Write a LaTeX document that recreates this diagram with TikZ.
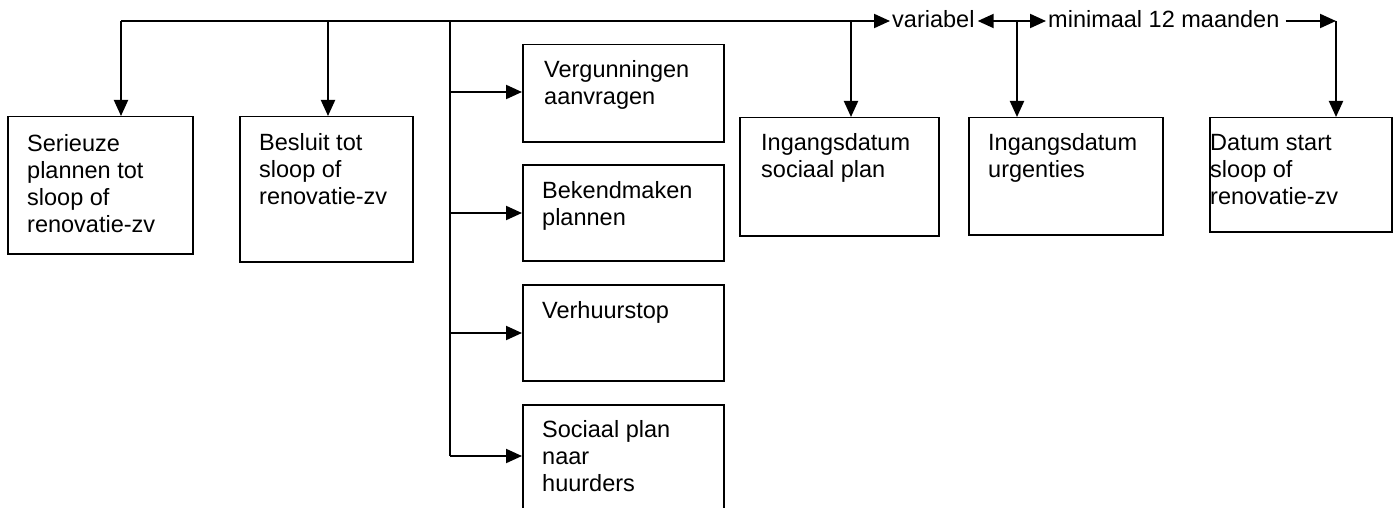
\documentclass[tikz,border=0pt]{standalone}
\usepackage{fontspec}
\setmainfont{Liberation Sans}
\usetikzlibrary{arrows.meta}
\newcommand\boxtext[1]{\begin{tabular}[t]{@{}l@{}}#1\end{tabular}}
\begin{document}
\begin{tikzpicture}[x=1pt,y=-1pt,
  box/.style={draw=black,line width=1.5pt,rectangle,anchor=north west,inner sep=0pt},
  txt/.style={anchor=base west,inner sep=0pt,font=\fontsize{23.5}{27}\selectfont},
  lbl/.style={anchor=base west,inner xsep=2pt,inner ysep=0pt,font=\fontsize{23.5}{27}\selectfont},
  conn/.style={line width=2pt},
  arr/.style={conn,-{Triangle[length=16pt,width=14pt]}}]
\useasboundingbox (0,0) rectangle (1394,508);
\fill[white] (0,0) rectangle (1394,508);
\clip (0,0) rectangle (1394,508);

% boxes
\node[box,minimum width=185pt,minimum height=137pt] (b1) at (7,116) {};
\node[box,minimum width=173pt,minimum height=145pt] (b2) at (239,116) {};
\node[box,minimum width=201pt,minimum height=97pt]  (b3) at (522,44) {};
\node[box,minimum width=201pt,minimum height=96pt]  (b4) at (522,164) {};
\node[box,minimum width=201pt,minimum height=96pt]  (b5) at (522,284) {};
\node[box,minimum width=201pt,minimum height=112pt] (b6) at (522,404) {};
\node[box,minimum width=199pt,minimum height=118pt] (b7) at (739,117) {};
\node[box,minimum width=194pt,minimum height=117pt] (b8) at (968,117) {};
\node[box,minimum width=182pt,minimum height=114pt] (b9) at (1209,117) {};

% box texts
\node[txt] (t1) at (27,151) {\boxtext{Serieuze\\plannen tot\\sloop of\\renovatie-zv}};
\node[txt] (t2) at (259,150) {\boxtext{Besluit tot\\sloop of\\renovatie-zv}};
\node[txt] (t3) at (544,78) {\boxtext{Vergunningen\\aanvragen}};
\node[txt] (t4) at (542,198) {\boxtext{Bekendmaken\\plannen}};
\node[txt] (t5) at (542,318) {\boxtext{Verhuurstop}};
\node[txt] (t6) at (542,437) {\boxtext{Sociaal plan\\naar\\huurders}};
\node[txt] (t7) at (761,150) {\boxtext{Ingangsdatum\\sociaal plan}};
\node[txt] (t8) at (988,150) {\boxtext{Ingangsdatum\\urgenties}};
\node[txt] (t9) at (1210,150) {\boxtext{Datum start\\sloop of\\renovatie-zv}};

% labels on the time line
\node[lbl] (var) at (890,28) {variabel};
\node[lbl] (mini) at (1046,28) {minimaal 12 maanden};

% junction coordinates
\coordinate (L) at (121,21);
\coordinate (j2) at (328,21);
\coordinate (j3) at (450,21);
\coordinate (j7) at (851,21);
\coordinate (u) at (1017,21);
\coordinate (d) at (1336,21);
\coordinate (k3) at (450,92);
\coordinate (k4) at (450,213);
\coordinate (k5) at (450,333);
\coordinate (k6) at (450,456);

% time line
\draw[arr] (L) -- (L -| var.west);
\draw[arr] (L) -- (L |- b1.north);
\draw[arr] (j2) -- (j2 |- b2.north);
\draw[conn] (j3) -- (k6);
\draw[arr] (k3) -- (k3 -| b3.west);
\draw[arr] (k4) -- (k4 -| b4.west);
\draw[arr] (k5) -- (k5 -| b5.west);
\draw[arr] (k6) -- (k6 -| b6.west);
\draw[arr] (j7) -- (j7 |- b7.north);
\draw[arr] (u) -- ([xshift=1pt]u -| var.east);
\draw[arr] (u) -- (u -| mini.west);
\draw[arr] (u) -- (u |- b8.north);
\draw[arr] ([xshift=4pt]d -| mini.east) -- (d);
\draw[arr] (d) -- (d |- b9.north);
\end{tikzpicture}
\end{document}
